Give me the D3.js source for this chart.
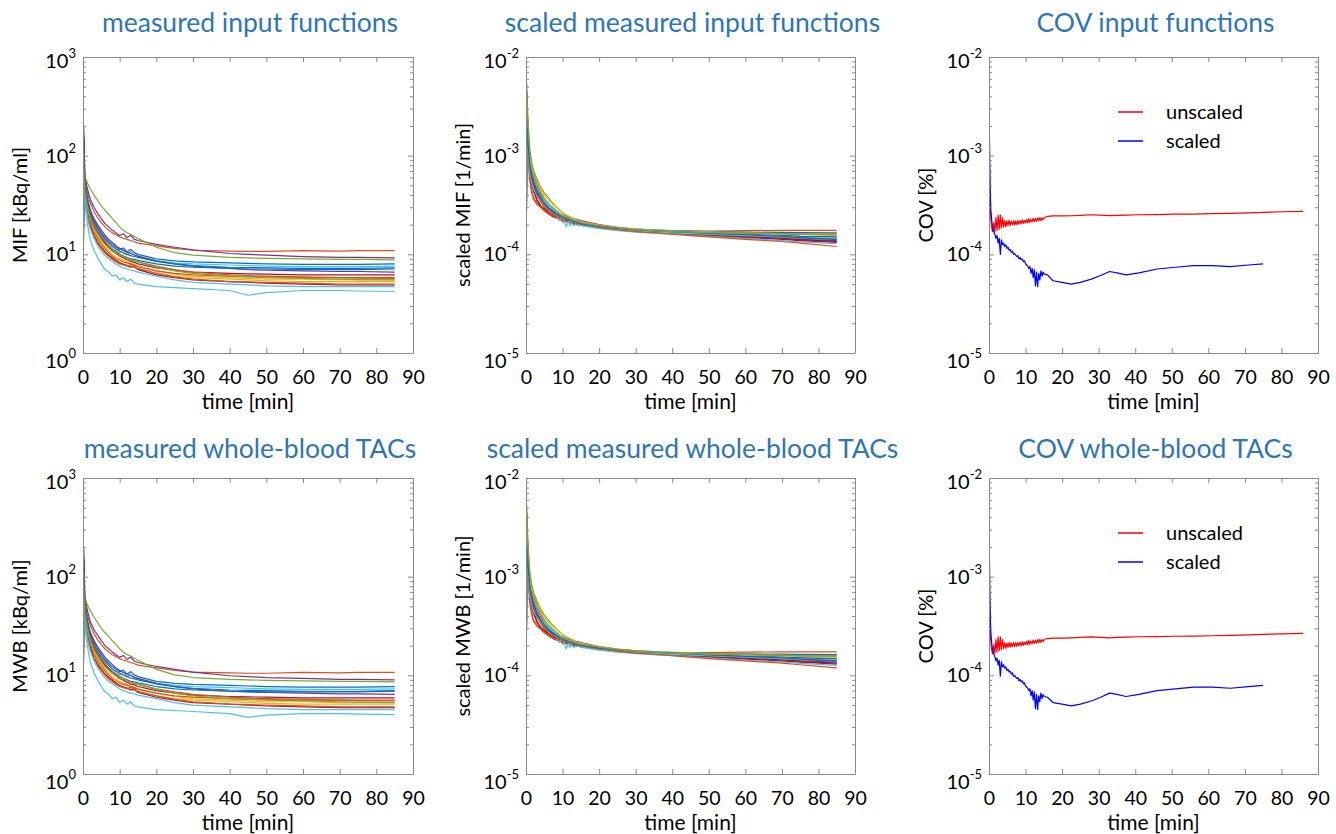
<!DOCTYPE html>
<html><head><meta charset="utf-8">
<script src="https://cdn.jsdelivr.net/npm/d3@7"></script>
<style>
body{margin:0;background:#fff}
svg{display:block}
text{font-family:Lato,"Open Sans",sans-serif}
</style>
</head><body>
<svg id="chart" width="1336" height="834"></svg>
<script>
// ---------------- DATA ----------------
// sample times [min] shared by the measured / scaled curves
const timeMin = [0, 0.2, 0.5, 1, 1.5, 2, 3, 4, 5, 6, 7, 8, 9, 10, 11, 12, 13, 14, 15, 20, 25, 30, 40, 45, 50, 60, 70, 75, 85];

// MATLAB default line colours, one per curve
const curveColors = ['#D95319','#7E2F8E','#77AC30','#0072BD','#4DBEEE','#7E2F8E','#0072BD','#A2142F','#EDB120',
                     '#D95319','#EDB120','#A2142F','#D95319','#4DBEEE','#4DBEEE','#D95319','#0072BD','#77AC30'];

// measured input functions MIF [kBq/ml]
const MIF = [
 [1,120,60,45,38,33,27,23.5,21,19,17.5,16.5,15.8,15,14.6,14.2,13.8,13.4,13.0, 12.2,11.5,11.0,10.8,10.7,10.7,10.9,10.8,10.9,10.9],
 [1,200,65,50,42,36,30,26,23,20.5,19,17.5,16.5,15.5,16.2,14.8,15.6,14.2,13.8, 12.6,11.8,11.1,10.2,10.0,9.8,9.5,9.3,9.3,9.2],
 [1,90,62,55,50,46,40,35,31,28,25.5,23,21,19,17.5,16.5,16.0,15.2,14.5, 11.8,10.4,9.8,9.3,9.2,9.1,9.0,8.9,8.9,8.8],
 [1,110,50,38,31,27,22,19,16.5,14.8,13.5,12.6,11.8,11.2,11.6,10.6,11.2,10.4,10.0, 9.0,8.6,8.4,8.2,8.1,8.0,7.9,7.9,7.9,8.0],
 [1,80,45,34,28,24,19.5,16.8,14.8,13.2,12.2,11.4,10.8,10.4,11.0,10.0,10.6,9.8,9.5, 8.6,8.2,8.0,7.8,7.7,7.6,7.5,7.5,7.5,7.6],
 [1,140,55,40,33,28,23,20,17.6,15.6,14.2,13.2,12.2,11.5,11.0,10.6,10.2,9.9,9.6, 8.6,8.0,7.6,7.2,7.0,6.9,6.8,6.7,6.7,6.6],
 [1,95,46,35,28,24,19.5,16.8,14.6,13.0,12.0,11.0,10.4,10.0,9.6,9.3,9.0,8.9,8.7, 8.0,7.6,7.4,7.2,7.1,7.1,7.0,7.0,7.0,7.1],
 [1,160,50,36,29,24.5,19.5,16.5,14.5,13.0,11.8,10.8,10.2,9.6,9.2,8.8,8.5,8.3,8.0, 7.3,6.9,6.6,6.4,6.35,6.3,6.2,6.2,6.2,6.2],
 [1,100,44,32,26,22,17.5,15,13.2,11.8,10.8,10.0,9.4,9.0,8.7,8.4,8.1,7.9,7.6, 6.8,6.3,6.0,5.8,5.7,5.6,5.6,5.5,5.5,5.5],
 [1,130,42,31,25,21,16.8,14.5,12.8,11.4,10.4,9.6,9.0,8.7,8.4,8.2,8.0,7.8,7.5, 6.8,6.4,6.2,6.0,5.95,5.9,5.8,5.8,5.8,5.8],
 [1,85,40,30,24,20,16,13.8,12.2,11.0,10.0,9.3,8.8,8.3,8.0,7.8,7.5,7.3,7.1, 6.5,6.0,5.8,5.6,5.5,5.4,5.3,5.3,5.3,5.3],
 [1,150,40,29,23,19.5,15.5,13.3,11.8,10.6,9.8,9.2,8.6,8.2,7.9,7.7,7.4,7.6,7.0, 6.2,5.8,5.5,5.3,5.2,5.1,5.0,4.9,4.9,4.9],
 [1,115,38,28,22,18.5,15,12.8,11.4,10.3,9.5,8.9,8.4,8.0,7.8,7.6,7.9,7.4,7.2, 6.4,5.9,5.6,5.3,5.25,5.2,5.1,5.0,5.0,5.0],
 [1,70,36,27,21,18,14.5,12.2,10.8,9.7,9.0,8.5,8.0,7.6,7.3,7.1,6.9,6.8,6.6, 6.0,5.5,5.2,5.0,4.9,4.8,4.7,4.7,4.7,4.7],
 [1,60,32,23,17.5,14,11,9.2,8.0,7.0,6.6,6.0,6.2,5.5,5.8,5.3,5.6,5.1,5.0, 4.7,4.6,4.5,4.3,3.85,4.1,4.3,4.3,4.25,4.2],
 [1,90,48,36,29,25,20,17,15,13.5,12.2,11.2,10.6,10.0,9.6,9.2,8.9,8.6,8.4, 7.6,7.0,6.6,6.2,6.1,6.0,5.9,5.8,5.75,5.7],
 [1,100,52,40,32,27,21,18,15.8,14.2,13.0,12.0,11.3,10.8,10.3,10.0,9.7,9.5,9.3, 8.5,8.0,7.7,7.4,7.35,7.3,7.2,7.2,7.2,7.3],
 [1,75,44,33,27,23,18.5,16,14,12.6,11.6,10.8,10.2,9.8,9.4,9.1,8.8,8.6,8.4, 7.4,6.8,6.4,6.0,5.9,5.8,5.7,5.6,5.55,5.5]
];

// measured whole-blood TACs MWB [kBq/ml]
const MWB = [
 [1,115,58,44,37,32,26.5,23,20.5,18.6,17.2,16.2,15.5,14.7,14.3,13.9,13.5,13.1,12.7, 11.9,11.2,10.8,10.6,10.5,10.5,10.7,10.6,10.7,10.7],
 [1,195,63,49,41,35,29,25.5,22.5,20,18.6,17.2,16.2,15.2,15.9,14.5,15.3,13.9,13.5, 12.3,11.5,10.8,9.9,9.7,9.5,9.3,9.1,9.1,9.0],
 [1,88,60,54,49,45,39,34,30,27,24.8,22.4,20.5,18.6,17.1,16.2,15.7,14.9,14.2, 11.5,10.1,9.5,9.1,9.0,8.9,8.8,8.7,8.7,8.6],
 [1,105,49,37,30,26,21.5,18.6,16.1,14.5,13.2,12.3,11.5,10.9,11.3,10.3,10.9,10.1,9.7, 8.7,8.3,8.1,7.9,7.8,7.7,7.6,7.6,7.6,7.7],
 [1,78,44,33,27,23.5,19,16.4,14.4,12.9,11.9,11.1,10.5,10.1,10.7,9.7,10.3,9.5,9.2, 8.3,7.9,7.7,7.5,7.4,7.3,7.2,7.2,7.2,7.3],
 [1,135,54,39,32,27.5,22.5,19.5,17.2,15.2,13.9,12.9,11.9,11.2,10.7,10.3,9.9,9.6,9.3, 8.3,7.7,7.3,6.9,6.8,6.7,6.6,6.5,6.5,6.4],
 [1,92,45,34,27.5,23.5,19,16.4,14.3,12.7,11.7,10.7,10.1,9.7,9.3,9.0,8.7,8.6,8.4, 7.7,7.3,7.1,6.9,6.85,6.8,6.8,6.8,6.8,6.9],
 [1,155,49,35,28.5,24,19,16.1,14.2,12.7,11.5,10.5,9.9,9.3,8.9,8.5,8.2,8.0,7.7, 7.0,6.6,6.3,6.1,6.05,6.0,5.9,5.9,5.9,5.9],
 [1,98,43,31,25.5,21.5,17.1,14.7,12.9,11.5,10.5,9.7,9.1,8.7,8.4,8.1,7.8,7.6,7.3, 6.6,6.1,5.8,5.6,5.5,5.4,5.4,5.3,5.3,5.3],
 [1,125,41,30,24.5,20.5,16.4,14.2,12.5,11.1,10.1,9.3,8.7,8.4,8.1,7.9,7.7,7.5,7.2, 6.6,6.2,6.0,5.8,5.75,5.7,5.6,5.6,5.6,5.6],
 [1,82,39,29,23.5,19.5,15.6,13.5,11.9,10.7,9.7,9.0,8.5,8.0,7.7,7.5,7.2,7.0,6.8, 6.2,5.8,5.6,5.4,5.3,5.2,5.1,5.1,5.1,5.1],
 [1,145,39,28,22.5,19,15.1,13,11.5,10.3,9.5,8.9,8.3,7.9,7.6,7.4,7.1,7.3,6.7, 6.0,5.6,5.3,5.1,5.0,4.9,4.8,4.7,4.7,4.7],
 [1,110,37,27,21.5,18,14.6,12.5,11.1,10.0,9.2,8.6,8.1,7.7,7.5,7.3,7.6,7.1,6.9, 6.2,5.7,5.4,5.1,5.05,5.0,4.9,4.8,4.8,4.8],
 [1,68,35,26,20.5,17.5,14.1,11.9,10.5,9.4,8.7,8.2,7.7,7.3,7.0,6.8,6.6,6.5,6.3, 5.8,5.3,5.0,4.8,4.7,4.6,4.5,4.5,4.5,4.5],
 [1,58,31,22,17,13.6,10.7,8.9,7.7,6.8,6.4,5.8,6.0,5.3,5.6,5.1,5.4,4.9,4.8, 4.5,4.4,4.3,4.1,3.75,3.95,4.1,4.1,4.05,4.0],
 [1,88,47,35,28.5,24.5,19.5,16.6,14.6,13.1,11.9,10.9,10.3,9.7,9.3,8.9,8.6,8.3,8.1, 7.3,6.8,6.4,6.0,5.9,5.8,5.7,5.6,5.55,5.5],
 [1,98,51,39,31,26.5,20.5,17.5,15.4,13.8,12.6,11.6,11.0,10.5,10.0,9.7,9.4,9.2,9.0, 8.2,7.7,7.4,7.1,7.05,7.0,6.9,6.9,6.9,7.0],
 [1,73,43,32,26.5,22.5,18,15.6,13.6,12.2,11.3,10.5,9.9,9.5,9.1,8.8,8.5,8.3,8.1, 7.2,6.6,6.2,5.8,5.7,5.6,5.5,5.4,5.35,5.3]
];

// scaled curves, values given in units of 1e-4 [1/min]
const SCALE_UNIT = 1e-4;
const scaledMIF = [
 [0.1,40,18,9,6.5,5.2,4.0,3.4,3.0,2.7,2.5,2.4,2.3,2.2,2.15,2.1,2.05,2.0,1.98, 1.92,1.85,1.78,1.72,1.72,1.72,1.74,1.75,1.75,1.75],
 [0.1,46,20,10,7.6,6.2,4.8,4.0,3.5,3.2,3.0,2.8,2.6,2.5,2.45,2.35,2.3,2.25,2.2, 2.0,1.88,1.8,1.7,1.67,1.63,1.58,1.55,1.52,1.5],
 [0.1,30,17,11,8.5,7.2,5.8,4.8,4.2,3.8,3.4,3.1,2.85,2.65,2.5,2.4,2.3,2.2,2.12, 1.95,1.82,1.75,1.65,1.62,1.6,1.55,1.5,1.47,1.42],
 [0.1,36,16,8.5,6.4,5.2,4.2,3.6,3.2,2.9,2.7,2.55,2.4,2.3,2.4,2.2,2.3,2.15,2.1, 1.95,1.86,1.8,1.74,1.72,1.7,1.68,1.67,1.66,1.65],
 [0.1,28,15,8,6.2,5.3,4.3,3.8,3.5,3.3,3.0,2.8,2.5,2.1,2.5,1.95,2.3,2.0,2.05, 1.9,1.82,1.78,1.72,1.7,1.68,1.65,1.6,1.58,null],
 [0.1,44,19,9.5,7.0,5.6,4.4,3.7,3.3,3.0,2.8,2.6,2.45,2.35,2.3,2.2,2.15,2.1,2.05, 1.93,1.83,1.76,1.66,1.62,1.58,1.52,1.45,1.42,1.38],
 [0.1,34,16,8.8,6.6,5.4,4.3,3.7,3.3,3.0,2.75,2.6,2.45,2.35,2.3,2.2,2.15,2.1,2.05, 1.92,1.83,1.76,1.68,1.65,1.62,1.58,1.55,1.52,1.5],
 [0.1,42,15,7.5,5.6,4.6,3.6,3.1,2.8,2.6,2.45,2.35,2.3,2.2,2.15,2.1,2.05,2.0,1.98, 1.88,1.8,1.73,1.64,1.6,1.57,1.5,1.45,1.4,1.35],
 [0.1,38,22,11,8.0,6.8,5.4,4.6,4.0,3.6,3.3,3.05,2.85,2.65,2.5,2.4,2.3,2.2,2.15, 1.98,1.87,1.8,1.72,1.7,1.68,1.65,1.6,1.58,1.55],
 [0.1,35,12,6.0,4.6,3.8,3.3,3.0,2.8,2.6,2.5,2.4,2.35,2.25,2.2,2.15,2.1,2.05,2.0, 1.9,1.82,1.76,1.7,1.68,1.66,1.64,1.62,1.6,1.6],
 [0.1,32,20,10.5,7.8,6.5,5.0,4.2,3.7,3.3,3.0,2.8,2.6,2.45,2.35,2.25,2.2,2.12,2.08, 1.93,1.84,1.77,1.68,1.65,1.62,1.57,1.52,1.48,1.45],
 [0.1,40,14,7.0,5.3,4.4,3.5,3.1,2.9,2.7,2.55,2.45,2.35,2.25,2.2,2.15,2.1,2.15,2.05, 1.9,1.8,1.72,1.62,1.58,1.55,1.48,1.42,1.38,1.32],
 [0.1,30,11,5.6,4.3,3.6,3.2,3.0,2.75,2.6,2.5,2.4,2.3,2.2,2.18,2.12,2.2,2.05,2.0, 1.88,1.8,1.74,1.66,1.63,1.6,1.55,1.5,1.46,1.42],
 [0.1,26,13,7.5,5.8,4.9,4.0,3.6,3.3,3.1,2.9,2.7,2.55,2.3,2.4,2.1,2.25,2.0,1.98, 1.85,1.78,1.72,1.65,1.62,1.6,1.55,1.5,1.48,1.45],
 [0.1,24,12,7.0,5.5,4.6,3.9,3.5,3.4,3.2,3.0,2.7,2.2,2.4,1.9,2.3,1.95,2.1,1.95, 1.82,1.74,1.68,1.6,1.56,1.52,1.45,1.38,1.34,1.28],
 [0.1,33,15,8.0,6.0,5.0,4.0,3.5,3.1,2.85,2.65,2.5,2.4,2.3,2.25,2.18,2.12,2.06,2.02, 1.88,1.78,1.7,1.6,1.55,1.5,1.42,1.35,1.3,1.2],
 [0.1,29,14,8.2,6.3,5.2,4.2,3.7,3.3,3.0,2.8,2.65,2.5,2.4,2.3,2.22,2.16,2.1,2.05, 1.92,1.84,1.77,1.7,1.67,1.63,1.58,1.52,1.48,1.42],
 [0.1,55,24,12,8.8,7.0,5.2,4.3,3.7,3.3,3.05,2.85,2.65,2.5,2.4,2.3,2.22,2.15,2.1, 1.95,1.85,1.78,1.7,1.68,1.66,1.64,1.62,1.6,1.58]
];
const scaledMWB = [
 [0.1,38,17.5,8.8,6.4,5.1,3.95,3.35,2.95,2.68,2.48,2.38,2.28,2.18,2.12,2.07,2.02,1.98,1.95, 1.88,1.81,1.75,1.7,1.7,1.7,1.72,1.73,1.73,1.73],
 [0.1,45,19.5,9.8,7.4,6.1,4.7,3.95,3.45,3.15,2.95,2.75,2.55,2.45,2.4,2.3,2.25,2.2,2.15, 1.96,1.85,1.77,1.67,1.64,1.6,1.55,1.52,1.5,1.48],
 [0.1,29,16.5,10.8,8.3,7.0,5.7,4.7,4.1,3.7,3.3,3.05,2.8,2.6,2.45,2.36,2.26,2.16,2.08, 1.92,1.79,1.72,1.62,1.6,1.58,1.53,1.48,1.45,1.4],
 [0.1,35,15.5,8.3,6.3,5.1,4.1,3.55,3.15,2.85,2.65,2.5,2.35,2.25,2.35,2.15,2.25,2.1,2.05, 1.92,1.83,1.77,1.71,1.69,1.67,1.65,1.64,1.63,1.62],
 [0.1,27,14.5,7.8,6.0,5.2,4.2,3.75,3.45,3.25,2.95,2.75,2.45,2.05,2.45,1.9,2.25,1.95,2.0, 1.87,1.79,1.75,1.7,1.68,1.66,1.63,1.58,1.56,null],
 [0.1,43,18.5,9.3,6.9,5.5,4.3,3.65,3.25,2.95,2.75,2.55,2.4,2.3,2.25,2.16,2.1,2.06,2.01, 1.9,1.8,1.73,1.63,1.6,1.56,1.5,1.43,1.4,1.36],
 [0.1,33,15.5,8.6,6.5,5.3,4.2,3.65,3.25,2.95,2.7,2.55,2.4,2.3,2.25,2.16,2.1,2.06,2.01, 1.89,1.8,1.73,1.66,1.63,1.6,1.56,1.53,1.5,1.48],
 [0.1,41,14.5,7.3,5.5,4.5,3.55,3.05,2.75,2.55,2.4,2.3,2.25,2.16,2.1,2.06,2.01,1.97,1.95, 1.85,1.77,1.7,1.62,1.58,1.55,1.48,1.43,1.38,1.33],
 [0.1,37,21.5,10.8,7.8,6.6,5.3,4.5,3.9,3.5,3.2,3.0,2.8,2.6,2.45,2.36,2.26,2.16,2.11, 1.95,1.84,1.77,1.7,1.68,1.66,1.63,1.58,1.56,1.53],
 [0.1,34,11.5,5.8,4.5,3.7,3.25,2.95,2.75,2.55,2.45,2.35,2.3,2.2,2.16,2.11,2.06,2.01,1.97, 1.87,1.79,1.73,1.68,1.66,1.64,1.62,1.6,1.58,1.58],
 [0.1,31,19.5,10.2,7.6,6.3,4.9,4.1,3.6,3.25,2.95,2.75,2.55,2.4,2.3,2.21,2.16,2.08,2.04, 1.9,1.81,1.74,1.66,1.63,1.6,1.55,1.5,1.46,1.43],
 [0.1,39,13.5,6.8,5.2,4.3,3.45,3.05,2.85,2.65,2.5,2.4,2.3,2.2,2.16,2.11,2.06,2.11,2.01, 1.87,1.77,1.7,1.6,1.56,1.53,1.46,1.4,1.36,1.3],
 [0.1,29,10.8,5.5,4.2,3.55,3.15,2.95,2.7,2.55,2.45,2.35,2.25,2.16,2.14,2.08,2.16,2.01,1.97, 1.85,1.77,1.72,1.64,1.61,1.58,1.53,1.48,1.44,1.4],
 [0.1,25,12.5,7.3,5.7,4.8,3.95,3.55,3.25,3.05,2.85,2.65,2.5,2.25,2.35,2.05,2.2,1.96,1.95, 1.82,1.75,1.7,1.63,1.6,1.58,1.53,1.48,1.46,1.43],
 [0.1,23,11.5,6.8,5.4,4.5,3.85,3.45,3.35,3.15,2.95,2.65,2.15,2.35,1.85,2.25,1.9,2.05,1.92, 1.8,1.72,1.66,1.58,1.54,1.5,1.43,1.36,1.32,1.26],
 [0.1,32,14.5,7.8,5.9,4.9,3.95,3.45,3.05,2.8,2.6,2.45,2.35,2.25,2.2,2.14,2.08,2.02,1.99, 1.85,1.76,1.68,1.58,1.53,1.48,1.4,1.33,1.28,1.19],
 [0.1,28,13.5,8.0,6.2,5.1,4.1,3.65,3.25,2.95,2.75,2.6,2.45,2.35,2.25,2.18,2.12,2.06,2.02, 1.9,1.82,1.75,1.68,1.65,1.61,1.56,1.5,1.46,1.4],
 [0.1,53,23,11.6,8.6,6.9,5.1,4.25,3.65,3.25,3.0,2.8,2.6,2.45,2.36,2.26,2.18,2.11,2.07, 1.93,1.83,1.76,1.68,1.66,1.64,1.62,1.6,1.58,1.56]
];

// COV curves: times [min] and values in units of 1e-4
const timeCOV = [0,0.1,0.3,0.5,0.8,1.0,
 1.3,1.6,1.9,2.2,2.5,2.8,3.1,3.4,3.7,4.0, 4.3,4.6,4.9,5.2,5.5,5.8,6.1,6.4,6.7,7.0,
 7.3,7.6,7.9,8.2,8.5,8.8,9.1,9.4,9.7,10.0, 10.3,10.6,10.9,11.2,11.5,11.8,12.1,12.4,12.7,13.0,
 13.3,13.6,13.9,14.2,14.5,14.8,15.1,
 16,17.5,20,22.5,25,28,30.5,33,35,37.5,41,46,51,56,61,66,71,75,80,86];
const covUnscaledMIF = [17,9,3.5,2.3,1.8,1.7,
 2.1,1.7,2.35,1.75,2.5,1.8,2.5,1.85,2.35,1.9, 2.2,1.9,2.18,1.95,2.22,1.96,2.16,2.0,2.2,1.98,
 2.18,2.0,2.2,2.02,2.2,2.04,2.24,2.06,2.2,2.08, 2.26,2.08,2.3,2.1,2.26,2.14,2.32,2.15,2.3,2.16,
 2.34,2.18,2.36,2.2,2.34,2.24,2.35,
 2.42,2.45,2.45,2.46,2.48,2.52,2.5,2.47,2.48,2.5,2.52,2.53,2.55,2.56,2.58,2.6,2.63,2.66,2.7,2.73];
const covScaledMIF = [45,18,5,2.8,2.1,1.85,
 1.7,1.6,1.45,1.55,1.3,1.45,1.0,1.4,1.25,1.3, 1.2,1.25,1.15,1.18,1.1,1.12,1.05,1.08,1.0,1.02,
 0.98,0.95,0.97,0.9,0.93,0.88,0.9,0.84,0.86,0.8, 0.78,0.76,0.72,0.75,0.64,0.72,0.58,0.7,0.48,0.66,
 0.47,0.64,0.55,0.68,0.6,0.66,0.63,
 0.62,0.54,0.52,0.5,0.52,0.56,0.61,0.67,0.65,0.62,0.65,0.71,0.74,0.77,0.77,0.75,0.78,0.8,null,null];
const covUnscaledMWB = [16,8.5,3.3,2.2,1.75,1.65,
 2.05,1.68,2.3,1.72,2.45,1.78,2.45,1.82,2.3,1.88, 2.15,1.88,2.12,1.92,2.16,1.93,2.12,1.96,2.15,1.95,
 2.14,1.97,2.16,1.99,2.16,2.0,2.2,2.02,2.16,2.04, 2.22,2.04,2.26,2.06,2.22,2.1,2.28,2.11,2.26,2.12,
 2.3,2.14,2.32,2.16,2.3,2.2,2.31,
 2.36,2.38,2.38,2.4,2.42,2.45,2.43,2.4,2.42,2.44,2.46,2.47,2.49,2.5,2.52,2.54,2.57,2.6,2.63,2.66];
const covScaledMWB = [42,17,4.8,2.7,2.0,1.8,
 1.65,1.55,1.4,1.5,1.27,1.42,0.98,1.37,1.22,1.28, 1.18,1.22,1.12,1.15,1.08,1.1,1.03,1.06,0.98,1.0,
 0.96,0.93,0.95,0.88,0.91,0.86,0.88,0.82,0.84,0.78, 0.76,0.74,0.7,0.73,0.62,0.7,0.56,0.68,0.46,0.64,
 0.45,0.62,0.54,0.66,0.58,0.64,0.61,
 0.6,0.53,0.51,0.49,0.51,0.55,0.6,0.66,0.64,0.61,0.64,0.7,0.73,0.76,0.76,0.74,0.77,0.79,null,null];

const xTickValues = [0,10,20,30,40,50,60,70,80,90];
const panelTitles = ['measured input functions','scaled measured input functions','COV input functions',
                     'measured whole-blood TACs','scaled measured whole-blood TACs','COV whole-blood TACs'];
const yAxisLabels = ['MIF [kBq/ml]','scaled MIF [1/min]','COV [%]','MWB [kBq/ml]','scaled MWB [1/min]','COV [%]'];
const xAxisLabel = 'time [min]';
const legendLabels = ['unscaled','scaled'];
const legendColors = ['#ff0000','#0000ff'];

// ---------------- LAYOUT ----------------
const svg = d3.select('#chart');
const colX = [[83,413],[526,855],[989,1318]];
const rowY = [[57,353],[478,774]];
const titleBaseline = [32,458];
const AXIS_GREY = '#8a8a8a';

function supFormat(sel){
  sel.selectAll('.tick text').each(function(d,i,nodes){
    const e = Math.round(Math.log10(d));
    const t = d3.select(this);
    t.text(null);
    t.append('tspan').text('10');
    t.append('tspan').attr('font-size','13px').attr('dy','-0.75em').text(String(e));
    if(i===0) t.attr('transform','translate(0,8)');
    if(i===nodes.length-1) t.attr('transform','translate(0,4)');
  });
}

function drawPanel(idx, cfg){
  const ci = idx % 3, ri = Math.floor(idx/3);
  const [x0,x1] = colX[ci], [y0,y1] = rowY[ri];
  const g = svg.append('g');
  const x = d3.scaleLinear().domain([0,90]).range([x0,x1]);
  const y = d3.scaleLog().domain(cfg.yDomain).range([y1,y0]);

  const clipId = 'clip'+idx;
  g.append('clipPath').attr('id',clipId).append('rect')
    .attr('x',x0).attr('y',y0).attr('width',x1-x0).attr('height',y1-y0);

  // data lines
  const line = d3.line().defined(d => d[1]!=null).x(d => x(d[0])).y(d => y(d[1]));
  const lg = g.append('g').attr('clip-path',`url(#${clipId})`);
  cfg.series.forEach(s => {
    const pts = s.t.map((t,i) => [t, s.v[i]==null ? null : s.v[i]*s.unit]);
    lg.append('path').attr('d',line(pts)).attr('fill','none')
      .attr('stroke',s.color).attr('stroke-width',s.width).attr('stroke-linejoin','round');
  });

  // axes
  const lo = Math.round(Math.log10(cfg.yDomain[0])), hi = Math.round(Math.log10(cfg.yDomain[1]));
  const majors = d3.range(lo,hi+1).map(e => Math.pow(10,e));
  const minors = [];
  for(let e=lo;e<hi;e++) for(let k=2;k<=9;k++) minors.push(k*Math.pow(10,e));

  const styleAxis = (a, fs) => { a.selectAll('.domain').attr('stroke',AXIS_GREY);
    a.selectAll('.tick line').attr('stroke',AXIS_GREY);
    a.selectAll('.tick text').attr('fill','#000').attr('font-size',(fs||20)+'px')
      .attr('font-family','Lato,"Open Sans",sans-serif'); };

  const ax = g.append('g').attr('transform',`translate(0,${y1})`)
    .call(d3.axisBottom(x).tickValues(xTickValues).tickSize(-5).tickSizeOuter(0).tickPadding(17));
  styleAxis(ax, 19.5);
  const axt = g.append('g').attr('transform',`translate(0,${y0})`)
    .call(d3.axisTop(x).tickValues(xTickValues).tickSize(-5).tickSizeOuter(0).tickFormat(''));
  styleAxis(axt);
  const ay = g.append('g').attr('transform',`translate(${x0},0)`)
    .call(d3.axisLeft(y).tickValues(majors).tickSize(-5).tickSizeOuter(0).tickPadding(7));
  styleAxis(ay); supFormat(ay);
  const ayr = g.append('g').attr('transform',`translate(${x1},0)`)
    .call(d3.axisRight(y).tickValues(majors).tickSize(-5).tickSizeOuter(0).tickFormat(''));
  styleAxis(ayr);
  [[d3.axisLeft,x0],[d3.axisRight,x1]].forEach(([f,px]) => {
    const m = g.append('g').attr('transform',`translate(${px},0)`)
      .call(f(y).tickValues(minors).tickSize(-3).tickSizeOuter(0).tickFormat(''));
    styleAxis(m); m.select('.domain').remove();
  });

  // labels
  g.append('text').attr('x',(x0+x1)/2 + 2).attr('y',titleBaseline[ri]).attr('text-anchor','middle')
    .attr('font-size','26.5px').attr('fill','#2E75B6').text(panelTitles[idx]);
  g.append('text').attr('x',(x0+x1)/2).attr('y',y1+56).attr('text-anchor','middle')
    .attr('font-size','21px').attr('fill','#000').text(xAxisLabel);
  g.append('text').attr('transform',`translate(${x0-56},${(y0+y1)/2}) rotate(-90)`)
    .attr('text-anchor','middle').attr('font-size','20px').attr('fill','#000').text(yAxisLabels[idx]);

  if(cfg.legend){
    legendLabels.forEach((lab,i) => {
      const ly = y0 + 55 + i*29;
      g.append('line').attr('x1',x0+129).attr('x2',x0+154).attr('y1',ly).attr('y2',ly)
        .attr('stroke',legendColors[i]).attr('stroke-width',1.5);
      g.append('text').attr('x',x0+177).attr('y',ly+7).attr('font-size','20px').attr('fill','#000').text(lab);
    });
  }
}

const multi = (arr, unit) => arr.map((v,i) => ({t: timeMin, v, unit, color: curveColors[i % curveColors.length], width: 1.2}));
const cov = (u, s) => [
  {t: timeCOV, v: u, unit: SCALE_UNIT, color: legendColors[0], width: 1.2},
  {t: timeCOV, v: s, unit: SCALE_UNIT, color: legendColors[1], width: 1.2}
];

drawPanel(0, {yDomain:[1,1000], series: multi(MIF,1)});
drawPanel(1, {yDomain:[1e-5,1e-2], series: multi(scaledMIF,SCALE_UNIT)});
drawPanel(2, {yDomain:[1e-5,1e-2], series: cov(covUnscaledMIF,covScaledMIF), legend:true});
drawPanel(3, {yDomain:[1,1000], series: multi(MWB,1)});
drawPanel(4, {yDomain:[1e-5,1e-2], series: multi(scaledMWB,SCALE_UNIT)});
drawPanel(5, {yDomain:[1e-5,1e-2], series: cov(covUnscaledMWB,covScaledMWB), legend:true});
</script>
</body></html>
